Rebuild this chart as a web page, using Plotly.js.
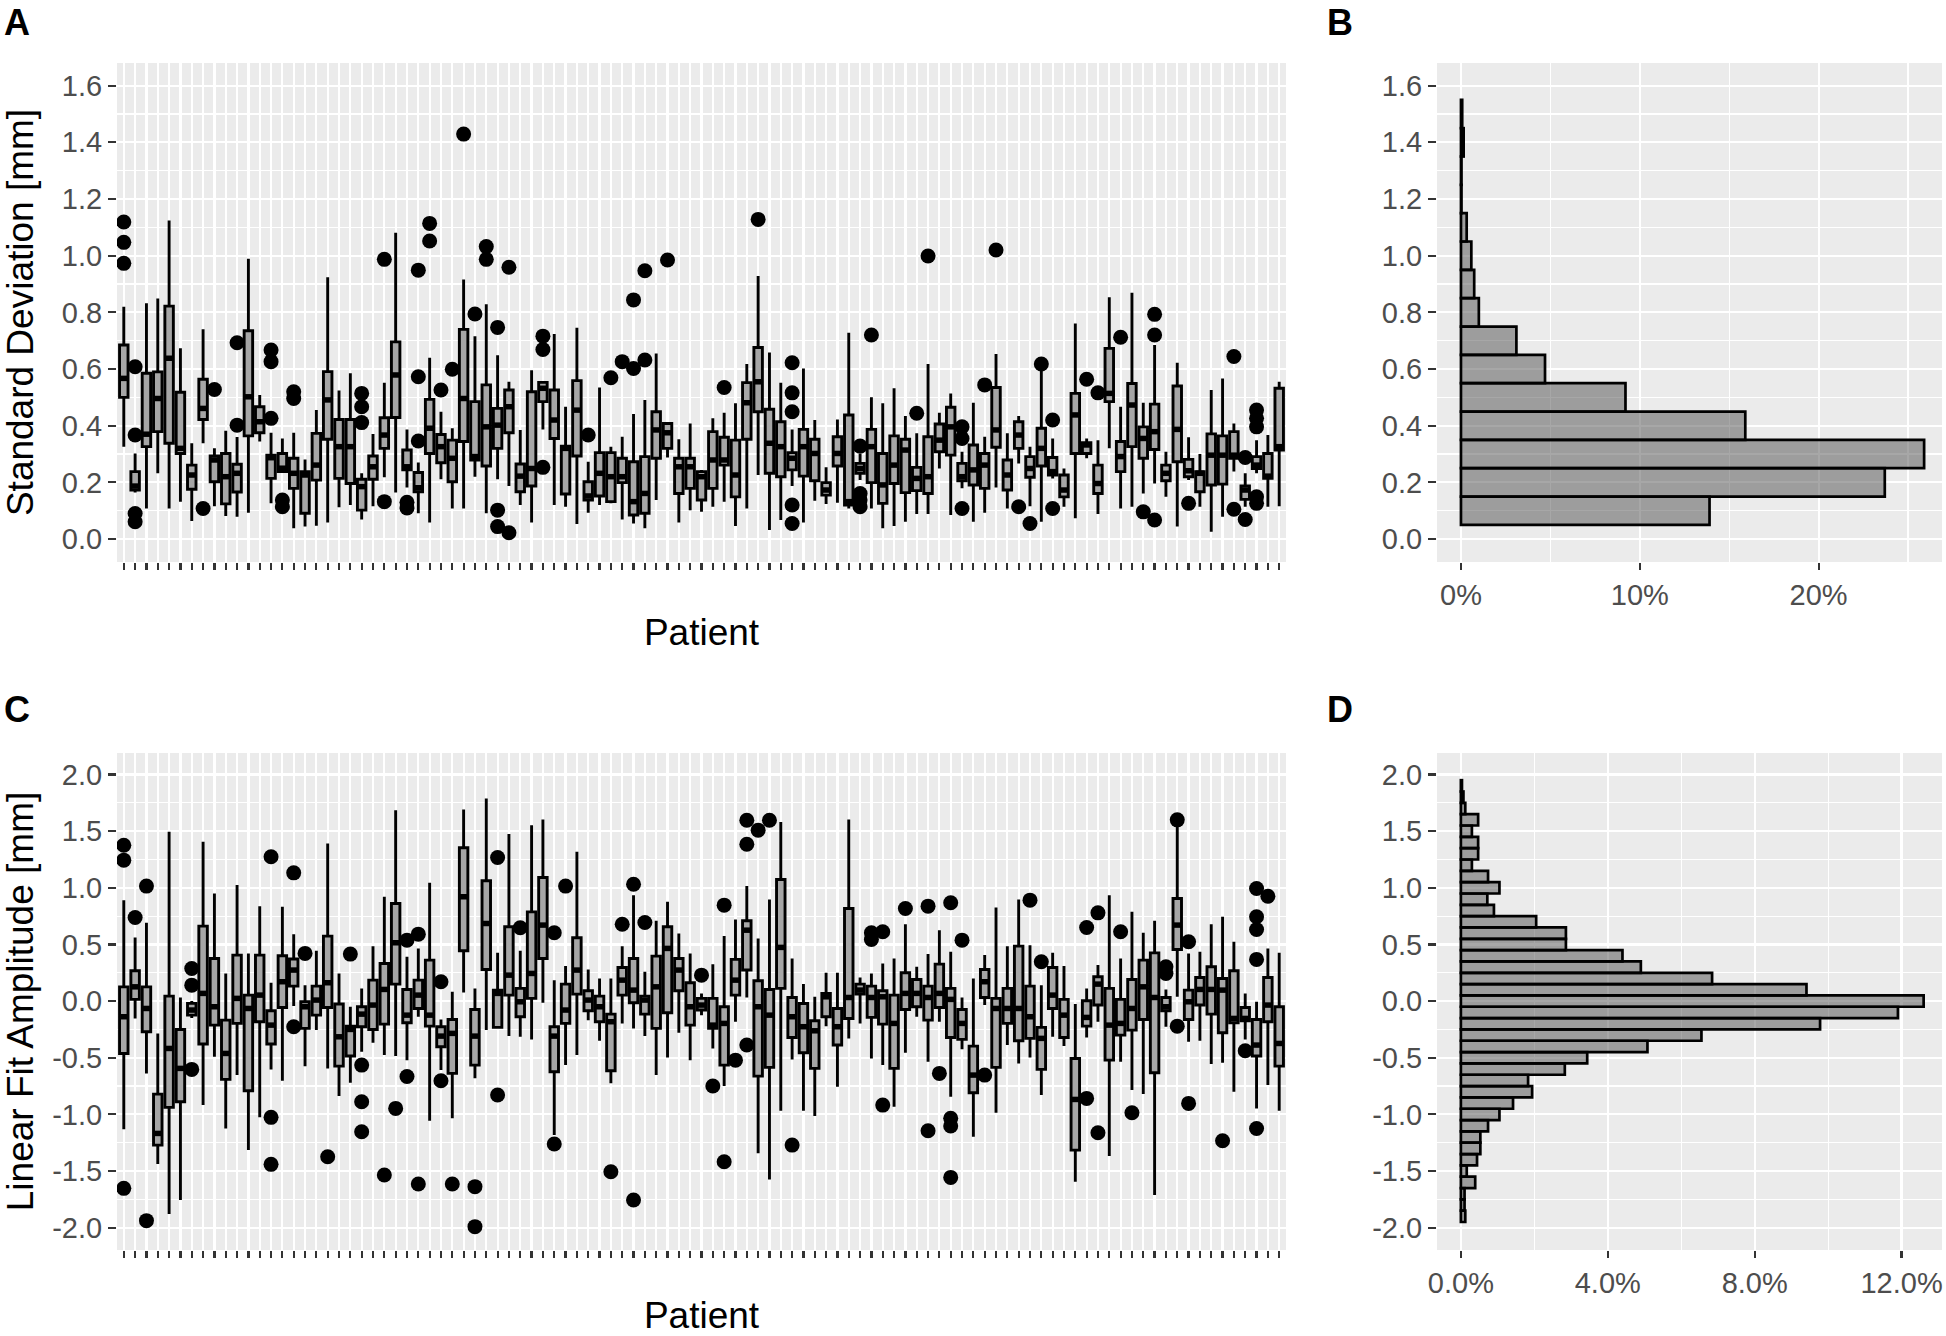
<!DOCTYPE html>
<html>
<head>
<meta charset="utf-8">
<script src="https://cdn.plot.ly/plotly-3.0.1.min.js"></script>
<style>html,body{margin:0;padding:0;background:#fff}#chart{width:1946px;height:1336px}</style>
</head>
<body>
<div id="chart"></div>
<script>
// ---------- Panel A: standard deviation per patient (box statistics) ----------
const patients = [];
for (let i = 1; i <= 103; i++) patients.push(i);

const sdQ1 = [0.50,0.173,0.326,0.379,0.338,0.302,0.176,0.422,0.202,0.124,0.166,0.364,0.375,0.214,0.238,0.179,0.091,0.208,0.352,0.214,0.196,0.102,0.211,0.32,0.429,0.244,0.167,0.302,0.269,0.202,0.344,0.279,0.258,0.32,0.375,0.167,0.187,0.485,0.355,0.159,0.293,0.138,0.152,0.132,0.199,0.085,0.091,0.285,0.32,0.161,0.179,0.138,0.179,0.261,0.149,0.352,0.449,0.232,0.22,0.244,0.222,0.206,0.155,0.258,0.12,0.232,0.199,0.126,0.196,0.164,0.171,0.161,0.308,0.296,0.206,0.191,0.179,0.324,0.173,0.32,0.218,0.258,0.226,0.149,0.302,0.302,0.161,0.485,0.238,0.326,0.285,0.316,0.206,0.273,0.22,0.167,0.191,0.194,0.285,0.14,0.249,0.214,0.314];
const sdMed = [0.567,0.187,0.37,0.496,0.638,0.32,0.226,0.461,0.279,0.22,0.232,0.502,0.414,0.287,0.25,0.232,0.226,0.261,0.491,0.326,0.326,0.185,0.255,0.367,0.579,0.255,0.181,0.391,0.326,0.285,0.496,0.291,0.396,0.402,0.467,0.222,0.249,0.532,0.42,0.32,0.455,0.152,0.232,0.22,0.22,0.132,0.161,0.385,0.375,0.255,0.255,0.22,0.279,0.279,0.226,0.481,0.555,0.338,0.326,0.285,0.326,0.302,0.173,0.302,0.132,0.249,0.326,0.191,0.261,0.314,0.214,0.22,0.349,0.396,0.22,0.244,0.261,0.385,0.226,0.367,0.249,0.32,0.238,0.173,0.438,0.332,0.196,0.514,0.291,0.473,0.355,0.379,0.232,0.387,0.241,0.232,0.296,0.296,0.296,0.173,0.261,0.222,0.326];
const sdQ3 = [0.685,0.238,0.585,0.59,0.822,0.518,0.261,0.564,0.293,0.302,0.264,0.735,0.467,0.296,0.302,0.285,0.238,0.373,0.591,0.422,0.422,0.211,0.293,0.428,0.696,0.314,0.235,0.493,0.369,0.349,0.74,0.485,0.544,0.461,0.526,0.265,0.52,0.553,0.526,0.328,0.559,0.202,0.305,0.305,0.285,0.273,0.291,0.449,0.408,0.285,0.285,0.238,0.379,0.359,0.349,0.552,0.676,0.458,0.414,0.305,0.387,0.352,0.199,0.361,0.438,0.267,0.387,0.302,0.364,0.352,0.253,0.361,0.406,0.465,0.267,0.332,0.302,0.535,0.279,0.414,0.291,0.391,0.288,0.226,0.514,0.34,0.261,0.673,0.344,0.549,0.396,0.476,0.261,0.54,0.281,0.238,0.371,0.364,0.379,0.187,0.291,0.302,0.532];
const sdLo = [0.326,0.164,0.108,0.232,0.108,0.132,0.064,0.338,0.116,0.081,0.079,0.093,0.344,0.126,0.238,0.038,0.044,0.047,0.058,0.112,0.12,0.069,0.116,0.218,0.164,0.182,0.091,0.058,0.211,0.108,0.108,0.22,0.091,0.211,0.187,0.12,0.058,0.387,0.12,0.114,0.053,0.093,0.12,0.126,0.069,0.055,0.038,0.138,0.288,0.058,0.102,0.096,0.114,0.132,0.046,0.108,0.226,0.032,0.067,0.187,0.058,0.135,0.124,0.128,0.108,0.208,0.108,0.038,0.046,0.061,0.088,0.088,0.249,0.085,0.179,0.061,0.093,0.182,0.108,0.267,0.116,0.061,0.214,0.114,0.073,0.285,0.088,0.32,0.108,0.114,0.161,0.196,0.149,0.044,0.208,0.114,0.026,0.079,0.238,0.114,0.232,0.114,0.116];
const sdHi = [0.82,0.302,0.832,0.849,1.124,0.673,0.338,0.74,0.32,0.382,0.36,0.989,0.508,0.375,0.355,0.375,0.281,0.455,0.924,0.524,0.585,0.232,0.371,0.552,1.081,0.387,0.27,0.64,0.449,0.391,0.916,0.716,0.829,0.649,0.555,0.385,0.596,0.553,0.724,0.467,0.746,0.273,0.535,0.326,0.361,0.441,0.491,0.655,0.408,0.352,0.408,0.244,0.426,0.446,0.479,0.618,0.928,0.658,0.552,0.387,0.602,0.42,0.253,0.422,0.728,0.302,0.5,0.479,0.532,0.434,0.373,0.618,0.446,0.514,0.308,0.481,0.361,0.653,0.373,0.434,0.326,0.6,0.355,0.249,0.761,0.355,0.349,0.853,0.467,0.869,0.481,0.685,0.308,0.622,0.359,0.3,0.526,0.567,0.408,0.232,0.349,0.367,0.555];
const sdOutPatient = [1,1,1,2,2,2,2,8,9,11,11,14,14,14,15,15,16,16,22,22,22,24,24,26,26,27,27,27,28,28,29,30,31,32,33,33,34,34,34,35,35,38,38,38,42,44,45,46,46,47,47,49,54,57,60,60,60,60,60,66,66,66,66,67,71,72,75,75,75,77,78,80,81,82,83,83,86,87,89,91,92,92,92,95,99,99,100,100,101,101,101,101,101];
const sdOutValue = [1.119,1.047,0.973,0.608,0.367,0.09,0.061,0.108,0.528,0.693,0.402,0.667,0.626,0.426,0.138,0.114,0.52,0.496,0.514,0.467,0.411,0.987,0.132,0.13,0.11,0.949,0.573,0.346,1.114,1.052,0.526,0.599,1.429,0.794,1.032,0.987,0.747,0.102,0.044,0.959,0.022,0.716,0.669,0.253,0.367,0.569,0.626,0.844,0.602,0.947,0.632,0.985,0.535,1.128,0.622,0.516,0.449,0.12,0.055,0.328,0.161,0.138,0.114,0.72,0.444,0.999,0.396,0.355,0.108,0.544,1.02,0.114,0.055,0.618,0.42,0.108,0.564,0.516,0.712,0.096,0.793,0.72,0.067,0.126,0.644,0.105,0.288,0.069,0.455,0.426,0.396,0.149,0.126];
const sdTicks = [0.0,0.2,0.4,0.6,0.8,1.0,1.2,1.4,1.6];

// ---------- Panel B: histogram of standard deviation ----------
const sdBins = [0.1,0.2,0.3,0.4,0.5,0.6,0.7,0.8,0.9,1.0,1.1,1.2,1.3,1.4,1.5];
const sdPct  = [13.9,23.7,25.9,15.9,9.2,4.7,3.1,1.0,0.74,0.58,0.32,0.03,0.03,0.15,0.07];
const sdPctTicks = [0,10,20];

// ---------- Panel C: linear fit amplitude per patient ----------
const fitQ1 = [-0.462,0.015,-0.271,-1.271,-0.938,-0.888,-0.124,-0.379,-0.212,-0.691,-0.197,-0.791,-0.182,-0.379,-0.056,0.132,-0.241,-0.124,-0.056,-0.574,-0.485,-0.226,-0.25,-0.203,0.15,-0.191,-0.065,-0.221,-0.403,-0.638,0.444,-0.565,0.279,-0.232,0.053,-0.138,0.024,0.376,-0.624,-0.197,0.062,-0.085,-0.182,-0.615,0.053,-0.015,-0.115,-0.241,-0.103,0.091,-0.212,-0.079,-0.241,-0.565,0.053,0.274,-0.662,-0.585,0.112,-0.321,-0.456,-0.594,-0.138,-0.388,-0.153,0.062,-0.144,-0.203,-0.594,-0.074,-0.05,-0.168,-0.056,-0.321,-0.338,-0.809,0.032,-0.585,-0.197,-0.35,-0.329,-0.603,-0.065,-0.321,-1.315,-0.221,-0.035,-0.521,-0.3,-0.256,-0.162,-0.632,-0.085,0.456,-0.162,-0.035,-0.115,-0.279,-0.191,-0.174,-0.485,-0.182,-0.574];
const fitMed = [-0.138,0.126,-0.065,-1.168,-0.418,-0.594,-0.079,0.068,-0.05,-0.462,0.024,-0.065,0.053,-0.212,0.171,0.274,-0.05,0.009,0.162,-0.315,-0.25,-0.115,-0.035,0.103,0.515,-0.124,0.053,-0.124,-0.309,-0.285,0.921,-0.309,0.685,0.068,0.229,-0.006,0.244,0.671,-0.309,-0.079,0.274,0.009,-0.05,-0.182,0.185,0.097,0.009,0.126,0.465,0.274,-0.05,-0.035,-0.212,-0.197,0.185,0.626,-0.05,-0.124,0.474,-0.138,-0.226,-0.262,0.038,-0.226,0.032,0.097,0.032,0.038,-0.197,0.068,0.068,0.032,0.068,0.015,-0.197,-0.653,0.171,-0.065,-0.065,-0.065,-0.138,-0.329,0.053,-0.124,-0.868,-0.144,0.15,-0.212,-0.197,-0.065,0.126,0.032,-0.05,0.671,-0.006,0.103,0.103,0.097,-0.153,-0.153,-0.388,-0.035,-0.374];
const fitQ3 = [0.126,0.268,0.126,-0.821,0.044,-0.25,-0.02,0.662,0.376,-0.168,0.406,0.053,0.406,-0.085,0.4,0.371,-0.006,0.132,0.574,-0.026,-0.221,-0.05,0.185,0.332,0.862,0.103,0.185,0.362,-0.226,-0.162,1.353,-0.074,1.062,0.097,0.656,0.112,0.788,1.091,-0.226,0.15,0.559,0.091,0.044,-0.115,0.297,0.376,0.044,0.397,0.656,0.376,0.162,0.024,0.024,-0.05,0.368,0.709,0.179,0.103,1.074,0.032,-0.021,-0.174,0.068,-0.065,0.818,0.15,0.132,0.091,0.053,0.25,0.191,0.132,0.326,0.112,-0.074,-0.397,0.279,0.024,0.112,0.485,0.132,-0.232,0.297,0.015,-0.506,0.003,0.215,0.112,0.015,0.191,0.362,0.426,0.032,0.906,0.097,0.209,0.303,0.2,0.268,-0.056,-0.162,0.209,-0.05];
const fitLo = [-1.132,-0.153,-0.638,-1.438,-1.879,-1.756,-0.15,-0.918,-0.491,-1.124,-0.653,-1.315,-1.026,-0.603,-0.703,-0.044,-0.574,-0.256,-0.594,-0.838,-0.721,-0.447,-0.368,-0.476,-0.485,-0.521,-0.138,-1.056,-0.609,-1.035,0.076,-0.682,-0.256,-0.232,-0.309,-0.315,-0.338,-0.015,-1.182,-0.565,-0.476,-0.168,-0.35,-0.726,-0.197,-0.241,-0.309,-0.653,-0.497,-0.279,-0.521,-0.124,-0.418,-0.75,-0.182,0.032,-1.344,-1.574,-0.968,-0.515,-0.968,-1.015,-0.221,-0.756,-0.329,-0.197,-0.506,-0.565,-0.932,-0.456,-0.138,-0.535,-0.182,-0.844,-0.426,-1.197,-0.035,-0.985,-0.388,-0.55,-0.497,-0.829,-0.315,-0.397,-1.594,-0.321,-0.182,-1.368,-0.535,-0.785,-0.821,-1.712,-0.226,0.038,-0.359,-0.35,-0.556,-0.544,-0.8,-0.338,-0.947,-0.741,-0.968];
const fitHi = [0.891,0.562,0.691,-0.285,1.494,0.032,0.0,1.406,0.95,0.244,1.024,0.421,0.838,0.162,0.832,0.591,0.141,0.444,1.391,0.244,-0.05,0.112,0.485,0.921,1.685,0.391,0.465,1.044,-0.162,0.082,1.691,0.112,1.788,0.426,1.474,0.444,1.553,1.603,0.185,0.309,1.318,0.279,0.2,0.2,0.485,0.935,0.259,0.709,0.876,0.597,0.421,0.068,0.326,0.574,0.721,1.015,0.553,0.897,1.582,0.376,0.15,0.038,0.25,0.25,1.603,0.209,0.244,0.332,0.376,0.679,0.303,0.415,0.626,0.435,0.032,0.2,0.406,0.826,0.485,0.897,0.494,0.141,0.426,0.309,-0.026,0.112,0.318,0.935,0.376,0.788,0.603,0.709,0.103,1.57,0.421,0.435,0.679,0.744,0.524,0.068,-0.006,0.465,0.426];
const fitOutPatient = [1,1,1,2,3,3,7,7,7,14,14,14,16,16,17,19,21,22,22,22,24,25,26,26,27,27,29,29,30,32,32,34,34,36,39,39,40,44,45,46,46,47,52,53,54,54,55,56,56,56,57,58,60,67,67,68,68,70,72,72,73,74,74,74,74,75,77,81,82,86,86,87,87,89,90,93,93,94,94,95,95,98,100,101,101,101,101,101,102];
const fitOutValue = [1.376,1.244,-1.653,0.738,1.015,-1.938,0.288,0.141,-0.603,1.274,-1.026,-1.441,1.132,-0.226,0.421,-1.374,0.415,-0.565,-0.888,-1.153,-1.535,-0.947,0.538,-0.665,0.591,-1.615,0.171,-0.703,-1.615,-1.638,-1.991,1.268,-0.829,0.647,0.603,-1.262,1.015,-1.506,0.679,1.032,-1.756,0.694,0.229,-0.75,0.847,-1.418,-0.521,1.597,1.385,-0.388,1.509,1.597,-1.271,0.603,0.544,0.612,-0.918,0.818,0.838,-1.144,-0.638,0.868,-1.035,-1.103,-1.556,0.538,-0.653,0.891,0.347,0.65,-0.859,0.779,-1.162,0.612,-0.985,0.303,0.244,1.6,-0.221,0.524,-0.903,-1.232,-0.438,0.994,0.744,0.632,0.368,-1.124,0.926];
const fitTicks = [-2.0,-1.5,-1.0,-0.5,0.0,0.5,1.0,1.5,2.0];

// ---------- Panel D: histogram of linear fit amplitude ----------
const fitBins = [-1.9,-1.8,-1.7,-1.6,-1.5,-1.4,-1.3,-1.2,-1.1,-1.0,-0.9,-0.8,-0.7,-0.6,-0.5,-0.4,-0.3,-0.2,-0.1,0.0,0.1,0.2,0.3,0.4,0.5,0.6,0.7,0.8,0.9,1.0,1.1,1.2,1.3,1.4,1.5,1.6,1.7,1.8,1.9];
const fitPct  = [0.12,0.1,0.1,0.39,0.16,0.44,0.53,0.53,0.74,1.05,1.42,1.94,1.83,2.83,3.44,5.08,6.55,9.78,11.9,12.6,9.41,6.84,4.9,4.4,2.86,2.86,2.05,0.9,0.72,1.05,0.74,0.3,0.47,0.47,0.3,0.47,0.12,0.07,0.03];
const fitPctTicks = [0,4,8,12];

// ---------- styling ----------
const BOX_W = 0.75;
const BOX_FILL = '#A6A6A6';
const BAR_FILL = 'rgba(80,80,80,0.5)';
const INK = '#000000';
const TICKC = '#333333';
const LABC = '#4D4D4D';
const FONT = 'Liberation Sans, Arial, Helvetica, sans-serif';

function medianSegments(meds) {
  const xs = [], ys = [];
  patients.forEach((p, k) => { xs.push(p - BOX_W / 2, p + BOX_W / 2, null); ys.push(meds[k], meds[k], null); });
  return {xs, ys};
}
function boxTrace(q1, med, q3, lo, hi, xa, ya) {
  return {type: 'box', x: patients, q1: q1, median: med, q3: q3, lowerfence: lo, upperfence: hi,
    width: BOX_W, whiskerwidth: 0, boxpoints: false, fillcolor: BOX_FILL,
    line: {color: INK, width: 2.9}, xaxis: xa, yaxis: ya, hoverinfo: 'skip', showlegend: false};
}
function medTrace(med, xa, ya) {
  const s = medianSegments(med);
  return {type: 'scatter', mode: 'lines', x: s.xs, y: s.ys, line: {color: INK, width: 5.5},
    xaxis: xa, yaxis: ya, hoverinfo: 'skip', showlegend: false, connectgaps: false};
}
function outTrace(px, vals, xa, ya) {
  return {type: 'scatter', mode: 'markers', x: px, y: vals, marker: {color: INK, size: 15, line: {width: 0}},
    xaxis: xa, yaxis: ya, hoverinfo: 'skip', showlegend: false};
}
function histTrace(bins, pct, xa, ya) {
  return {type: 'bar', orientation: 'h', y: bins, x: pct, width: 0.1,
    marker: {color: BAR_FILL, line: {color: INK, width: 2.7}},
    xaxis: xa, yaxis: ya, hoverinfo: 'skip', showlegend: false};
}

const data = [
  boxTrace(sdQ1, sdMed, sdQ3, sdLo, sdHi, 'x', 'y'),
  medTrace(sdMed, 'x', 'y'),
  outTrace(sdOutPatient, sdOutValue, 'x', 'y'),
  histTrace(sdBins, sdPct, 'x2', 'y2'),
  boxTrace(fitQ1, fitMed, fitQ3, fitLo, fitHi, 'x3', 'y3'),
  medTrace(fitMed, 'x3', 'y3'),
  outTrace(fitOutPatient, fitOutValue, 'x3', 'y3'),
  histTrace(fitBins, fitPct, 'x4', 'y4')
];

const W = 1946, H = 1336;
const dx = (a, b) => [a / W, b / W];
const dy = (top, bottom) => [1 - bottom / H, 1 - top / H];

const common = {ticks: 'outside', tickcolor: TICKC, tickwidth: 2.2, showgrid: true, gridcolor: '#FFFFFF',
  gridwidth: 2.2, zeroline: false, showline: false, automargin: false,
  tickfont: {family: FONT, size: 29, color: LABC}};

function patientAxis(dom, anchor) {
  return Object.assign({}, common, {domain: dom, anchor: anchor, range: [0.4, 103.6],
    tickmode: 'array', tickvals: patients, ticktext: patients.map(() => ''), ticklen: 7,
    title: {text: 'Patient', font: {family: FONT, size: 37, color: '#000'}, standoff: 44}});
}
function valueAxis(dom, anchor, range, ticks, title, standoff) {
  const step = ticks[1] - ticks[0];
  const ax = Object.assign({}, common, {domain: dom, anchor: anchor, range: range,
    tickmode: 'array', tickvals: ticks, ticktext: ticks.map(v => v.toFixed(1)), ticklen: 8,
    minor: {tickmode: 'linear', tick0: ticks[0] - step / 2, dtick: step, showgrid: true, gridcolor: '#FFFFFF', gridwidth: 1.2, ticks: ''}});
  if (title) ax.title = {text: title, font: {family: FONT, size: 37, color: '#000'}, standoff: standoff};
  return ax;
}
function pctAxis(dom, anchor, range, ticks, digits) {
  const step = ticks[1] - ticks[0];
  return Object.assign({}, common, {domain: dom, anchor: anchor, range: range,
    tickmode: 'array', tickvals: ticks, ticktext: ticks.map(v => v.toFixed(digits) + '%'), ticklen: 7,
    minor: {tickmode: 'linear', tick0: step / 2, dtick: step, showgrid: true, gridcolor: '#FFFFFF', gridwidth: 1.2, ticks: ''}});
}

const leftDom = dx(117, 1286), rightDom = dx(1437, 1942);
const topDom = dy(63, 562), botDom = dy(753, 1250);

const layout = {
  width: W, height: H, margin: {l: 0, r: 0, t: 0, b: 0, pad: 0},
  paper_bgcolor: '#FFFFFF', plot_bgcolor: '#EBEBEB', showlegend: false, bargap: 0,
  font: {family: FONT, color: '#000'},
  xaxis: patientAxis(leftDom, 'y'),
  yaxis: valueAxis(topDom, 'x', [-0.081, 1.68], sdTicks, 'Standard Deviation [mm]', 26),
  xaxis2: pctAxis(rightDom, 'y2', [-1.34, 26.9], sdPctTicks, 0),
  yaxis2: valueAxis(topDom, 'x2', [-0.081, 1.68], sdTicks, null),
  xaxis3: patientAxis(leftDom, 'y3'),
  yaxis3: valueAxis(botDom, 'x3', [-2.197, 2.19], fitTicks, 'Linear Fit Amplitude [mm]', 26),
  xaxis4: pctAxis(rightDom, 'y4', [-0.65, 13.1], fitPctTicks, 1),
  yaxis4: valueAxis(botDom, 'x4', [-2.197, 2.19], fitTicks, null),
  annotations: [
    {text: '<b>A</b>', x: 2 / W, y: 1 - 22 / H},
    {text: '<b>B</b>', x: 1325 / W, y: 1 - 22 / H},
    {text: '<b>C</b>', x: 2 / W, y: 1 - 709 / H},
    {text: '<b>D</b>', x: 1325 / W, y: 1 - 709 / H}
  ].map(a => Object.assign(a, {xref: 'paper', yref: 'paper', xanchor: 'left', yanchor: 'middle',
      showarrow: false, font: {family: FONT, size: 36, color: '#000'}}))
};

Plotly.newPlot('chart', data, layout, {staticPlot: true, displayModeBar: false});
</script>
</body>
</html>
